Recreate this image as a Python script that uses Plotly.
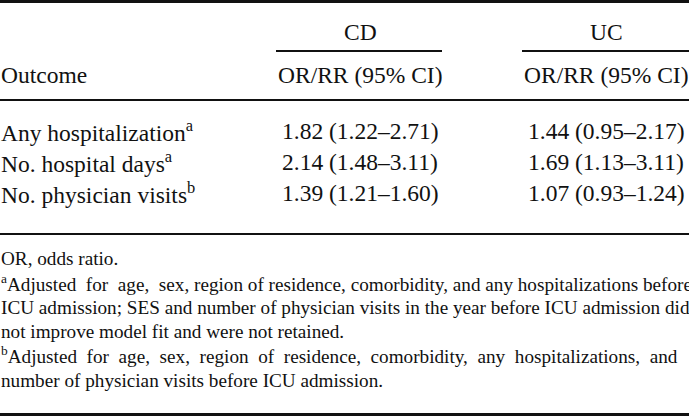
import plotly.graph_objects as go

# table content
groups = ["CD", "UC"]
col_header = "OR/RR (95% CI)"
outcomes = ["Any hospitalization", "No. hospital days", "No. physician visits"]
outcome_marks = ["a", "a", "b"]
cd_values = ["1.82 (1.22–2.71)", "2.14 (1.48–3.11)", "1.39 (1.21–1.60)"]
uc_values = ["1.44 (0.95–2.17)", "1.69 (1.13–3.11)", "1.07 (0.93–1.24)"]
footnotes = [
    "OR, odds ratio.",
    "<sup>a</sup>Adjusted for age, sex, region of residence, comorbidity, and any hospitalizations before",
    "ICU admission; SES and number of physician visits in the year before ICU admission did",
    "not improve model fit and were not retained.",
    "<sup>b</sup>Adjusted for age, sex, region of residence, comorbidity, any hospitalizations, and",
    "number of physician visits before ICU admission.",
]
# how many word gaps get an extra space, to imitate the justified lines
gap_pad = [0, 3, 0, 0, 10, 0]

W, H = 689, 416
FONT = "Liberation Serif"
col_x = [360, 606]          # column centres
col_span = [(276, 442), (522, 689)]
row_y = [131, 162, 193]
foot_y = [258, 283, 307, 331, 355, 380]

fig = go.Figure()


def text(x, y, s, size=23.5, anchor="left"):
    fig.add_annotation(x=x, y=y, text=s, showarrow=False, xanchor=anchor,
                       yanchor="middle", xref="x", yref="y", borderpad=0,
                       font=dict(family=FONT, size=size, color="#111"))


def hline(x0, x1, y, w):
    fig.add_shape(type="line", x0=x0, x1=x1, y0=y, y1=y, xref="x", yref="y",
                  line=dict(color="#111", width=w))


# rules
hline(0, W, 1.5, 3)
for (a, b) in col_span:
    hline(a, b, 51, 2)
hline(0, W, 100, 2)
hline(0, W, 234, 2)
hline(0, W, 414.5, 3)

# headers
for g, x in zip(groups, col_x):
    text(x, 32, g, anchor="center")
    text(x, 75, col_header, anchor="center")
text(0, 75, "Outcome")

# body
for i, y in enumerate(row_y):
    text(0, y, outcomes[i] + "<sup>" + outcome_marks[i] + "</sup>")
    text(col_x[0], y, cd_values[i], anchor="center")
    text(col_x[1], y, uc_values[i], anchor="center")

# notes
for s, y, n in zip(footnotes, foot_y, gap_pad):
    if n:
        s = s.replace(" ", "\u00a0 ", n)
    text(0, y, s, size=19.2)

fig.update_xaxes(range=[0, W], visible=False)
fig.update_yaxes(range=[H, 0], visible=False)
fig.update_layout(width=W, height=H, margin=dict(l=0, r=0, t=0, b=0),
                  plot_bgcolor="white", paper_bgcolor="white", showlegend=False)

fig.write_html("out.html", config={"displayModeBar": False},
               post_script="document.body.style.margin='0';")
